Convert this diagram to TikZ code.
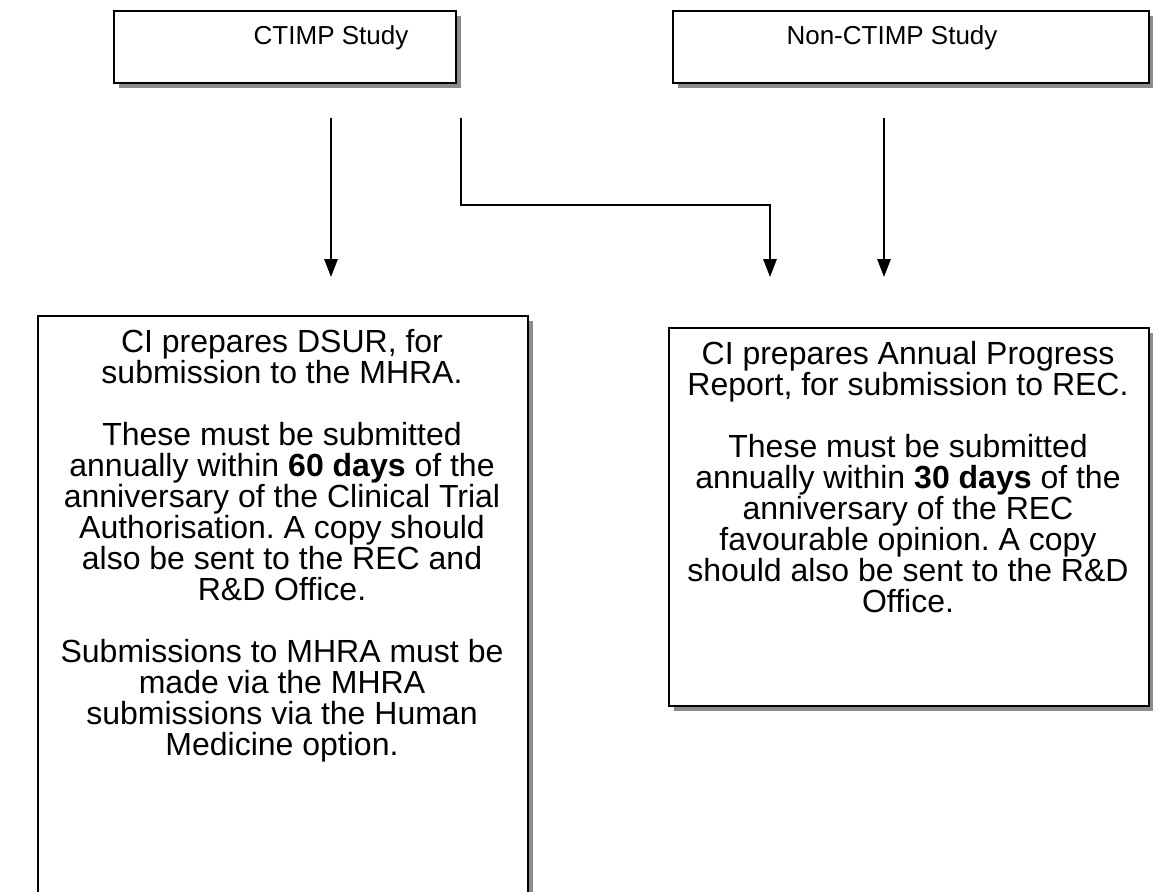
\documentclass[tikz,border=0pt]{standalone}
\usepackage{fontspec}
\setmainfont{Liberation Sans}
\usetikzlibrary{shadows,arrows.meta}
\frenchspacing

\tikzset{
  studybox/.style={draw, line width=1.5pt, fill=white, inner sep=0pt,
    drop shadow={shadow xshift=3.75pt, shadow yshift=-3.75pt, fill=black!45, opacity=1}},
  labeltext/.style={inner sep=0pt, align=center, font=\fontsize{19.5}{23.25}\selectfont},
  steptext/.style={inner sep=0pt, align=center, font=\fontsize{24}{23.25}\selectfont},
  flow/.style={line width=1.5pt, -{Triangle[length=13.5pt, width=10pt]}}
}

\begin{document}
\begin{tikzpicture}[x=0.75pt,y=0.75pt,yscale=-1,xscale=1]
\useasboundingbox (0,0) rectangle (1153,892);

% study type boxes
\node[studybox, anchor=north west, minimum width=256.5pt, minimum height=54pt] (ctimp) at (113,10) {};
\node[labeltext] (ctimplbl) at (331,38) {CTIMP Study};
\node[studybox, anchor=north west, minimum width=357pt, minimum height=54pt] (nonctimp) at (672,10) {};
\node[labeltext] (nonctimplbl) at (892,38) {Non-CTIMP Study};

% report boxes
\node[studybox, anchor=north west, minimum width=367.5pt, minimum height=450pt] (dsur) at (37,315) {};
\node[steptext, anchor=north] (dsurtxt) at (282,329) {CI prepares DSUR, for\\
  submission to the MHRA.\\[23.25pt]
  These must be submitted\\
  annually within \textbf{60 days} of the\\
  anniversary of the Clinical Trial\\
  Authorisation. A copy should\\
  also be sent to the REC and\\
  R\&D Office.\\[23.25pt]
  Submissions to MHRA must be\\
  made via the MHRA\\
  submissions via the Human\\
  Medicine option.};
\node[studybox, anchor=north west, minimum width=360pt, minimum height=283.5pt] (apr) at (668,327) {};
\node[steptext, anchor=north] (aprtxt) at (908,341) {CI prepares Annual Progress\\
  Report, for submission to REC.\\[23.25pt]
  These must be submitted\\
  annually within \textbf{30 days} of the\\
  anniversary of the REC\\
  favourable opinion. A copy\\
  should also be sent to the R\&D\\
  Office.};

% connectors
\coordinate (c1) at (331,118);
\coordinate (t1) at (331,277);
\coordinate (c2) at (461,118);
\coordinate (t2) at (770,277);
\coordinate (c3) at (884,118);
\coordinate (t3) at (884,277);
\draw[flow] (c1) -- (t1);
\draw[flow] (c2) |- (620,205) -| (t2);
\draw[flow] (c3) -- (t3);

\end{tikzpicture}
\end{document}
